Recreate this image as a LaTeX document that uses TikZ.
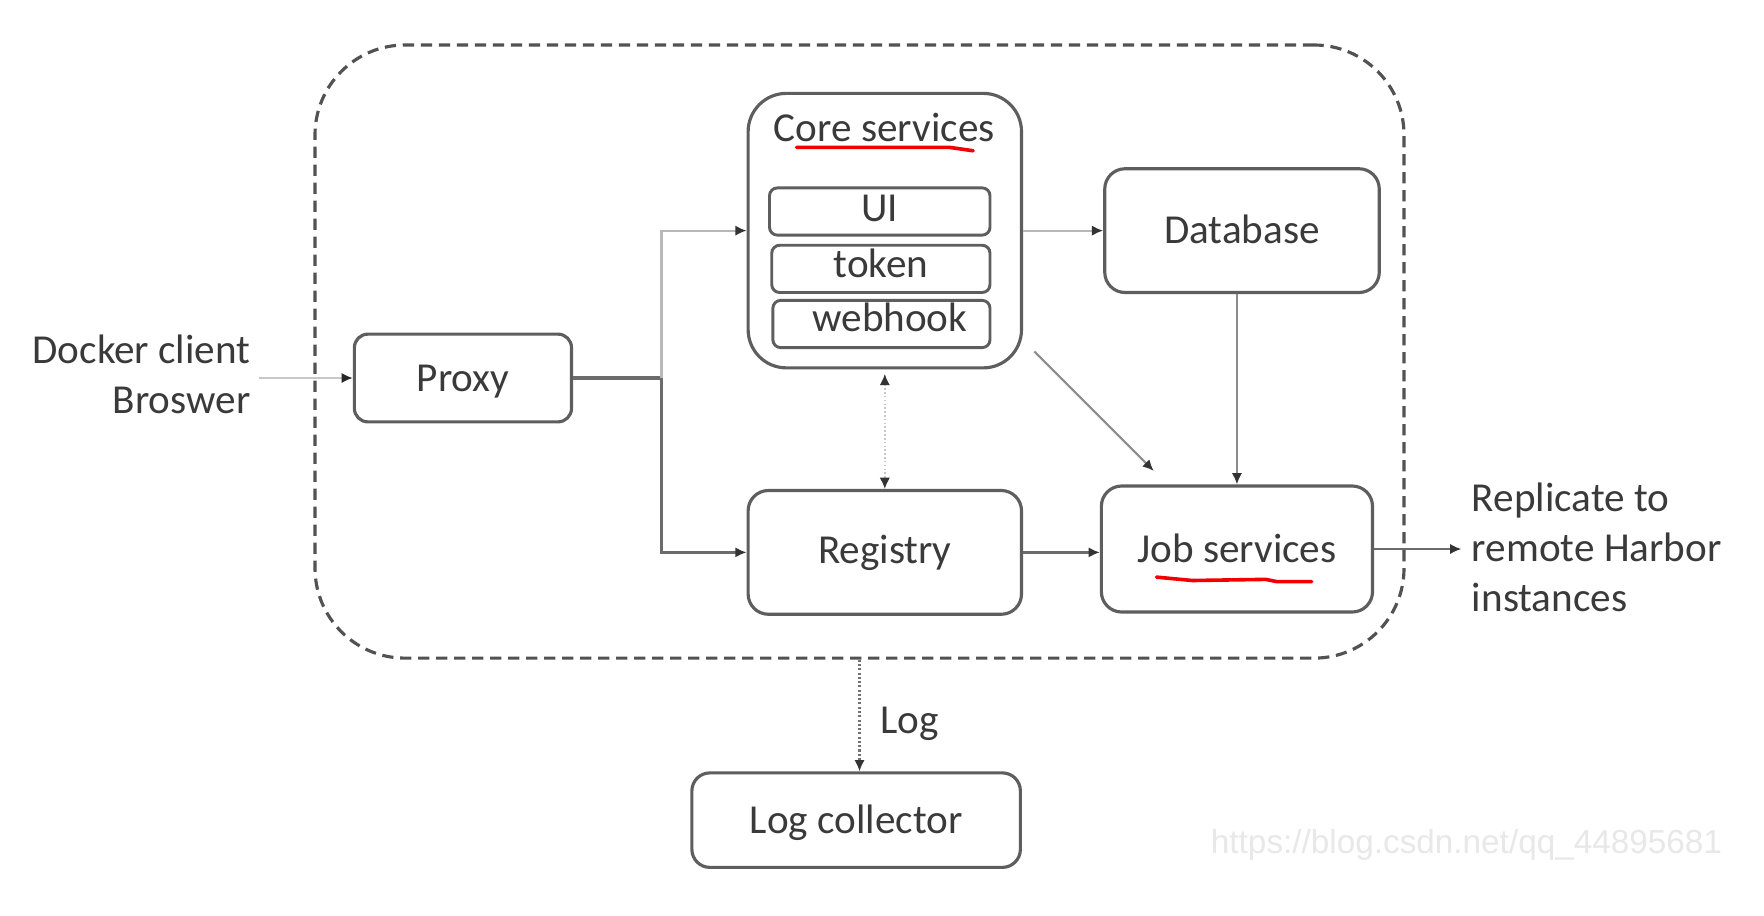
\documentclass[tikz,border=0pt]{standalone}
\usepackage{fontspec}
\setmainfont{Carlito}
\newfontfamily\wmfont{Liberation Sans}
\usetikzlibrary{arrows.meta,calc}
\definecolor{ink}{HTML}{3A3A3A}
\definecolor{edge}{HTML}{5E5E5E}
\definecolor{redink}{HTML}{F00000}
\begin{document}
\begin{tikzpicture}[x=0.5pt,y=-0.5pt,
  txt/.style={font=\fontsize{18.3}{22.3}\selectfont, text=ink, inner sep=0pt},
  box/.style={txt, draw=edge, line width=1.4pt, fill=white,
              text height=11.8pt, text depth=0pt},
  subbox/.style={box, rounded corners=3.5pt, line width=1.3pt,
                 minimum width=97pt, minimum height=21pt},
  darkcon/.style={draw=black!58, line width=1.3pt, -{Latex[length=5pt,width=4.6pt,color=black!80]}},
  lightcon/.style={draw=black!28, line width=0.9pt, -{Latex[length=5pt,width=4.6pt,color=black!80]}},
  midcon/.style={draw=black!45, line width=1.0pt, -{Latex[length=5pt,width=4.6pt,color=black!80]}},
  redmark/.style={draw=redink, line width=1.6pt, line cap=round, line join=round}
]
\useasboundingbox[fill=white] (0,0) rectangle (1568,814);

% outer dashed region
\node[draw=black!68, line width=1.4pt, dash pattern=on 5pt off 3pt,
      rounded corners=40pt, minimum width=484pt, minimum height=272.5pt,
      inner sep=0pt] (harbor) at (764,312.5) {};

% boxes
\node[box, rounded corners=6pt, minimum width=96.5pt, minimum height=39pt] (proxy) at (411.5,336) {Proxy};
\node[box, rounded corners=17pt, minimum width=121.5pt, minimum height=122pt] (core) at (786.5,205) {};
\node[txt, text height=11.8pt, text depth=0pt] (coretitle) at (786,114) {Core services};
\node[subbox, minimum width=98pt, text depth=3pt] (ui) at (782,188) {UI};
\node[subbox, text depth=4pt] (token) at (783,239) {token};
\node[subbox, minimum width=96.5pt, text depth=5pt] (webhook) at (783.5,288) {\hspace*{7.5pt}webhook};
\node[box, rounded corners=9pt, minimum width=122pt, minimum height=55pt] (db) at (1104,205) {Database};
\node[box, rounded corners=9pt, minimum width=121.5pt, minimum height=55pt, text depth=2pt] (reg) at (786.5,491) {Registry};
\node[box, rounded corners=9pt, minimum width=120.5pt, minimum height=56pt] (job) at (1099.5,488) {Job services};
\node[box, rounded corners=8pt, minimum width=146pt, minimum height=42pt] (logc) at (761,729) {Log collector};

% outside labels
\node[txt, align=right, anchor=south east] (client) at (223,368) {Docker client\\Broswer};
\node[txt, align=left, anchor=south west, font=\fontsize{18.3}{22.25}\selectfont] (replicate) at (1308,544) {Replicate to\\remote Harbor\\instances};
\node[txt, anchor=base west] (loglbl) at (782,652) {Log};

\coordinate (cin) at (230,336);
\coordinate (j) at (588,336);
\coordinate (rep) at (1299,488);

% connectors
\draw[draw=black!22, line width=0.9pt, -{Latex[length=5pt,width=4.6pt,color=black!85]}] (cin) -- (proxy.west);
\draw[draw=black!58, line width=1.5pt] (proxy.east) -- (j);
\draw[lightcon] (j) -- (j |- core.west) -- (core.west);
\draw[darkcon] (j) |- (reg.west);
\draw[lightcon] (core.east) -- (db.west);
\draw[midcon] (job.north |- db.south) -- (job.north);
\draw[midcon] ([shift={(10,-16)}]core.south east) -- ([shift={(48,-12)}]job.north west);
\draw[draw=black!22, line width=0.7pt, densely dotted,
      {Latex[length=5pt,width=4.6pt,color=black!80]}-{Latex[length=5pt,width=4.6pt,color=black!80]},
      shorten <=2pt] (core.south) -- (reg.north);
\draw[darkcon] (reg.east) -- (reg.east -| job.west);
\draw[darkcon] (job.east) -- (rep);
\draw[draw=black!55, line width=0.9pt, densely dotted,
      -{Latex[length=5pt,width=4.6pt,color=black!80]}] (harbor.south) -- (harbor.south |- logc.north);

% red annotation marks
\draw[redmark] (708,131) -- (844,131) -- (865,134);
\draw[redmark] (1028,513) -- (1060,516) -- (1125,515) -- (1135,517) -- (1166,517);

% watermark
\node[font=\wmfont\fontsize{14.8}{16}\selectfont, text=black!9, anchor=base west, inner sep=0pt] (wm) at (1076,759) {https://blog.csdn.net/qq\_44895681};
\end{tikzpicture}
\end{document}
